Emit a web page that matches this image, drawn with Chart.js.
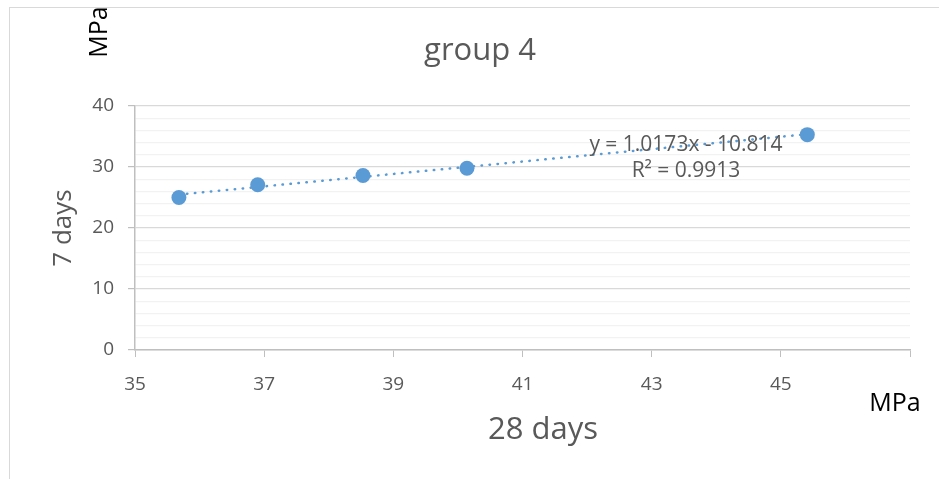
<!DOCTYPE html>
<html>
<head>
<meta charset="utf-8">
<script src="https://cdn.jsdelivr.net/npm/chart.js@4.4.1/dist/chart.umd.min.js"></script>
<style>
    html, body { margin: 0; padding: 0; background: #fff; }
    #wrap { width: 939px; height: 479px; }
</style>
</head>
<body>
<div id="wrap"><canvas id="chart" width="939" height="479"></canvas></div>
<script>
// 28 days strength (x) vs 7 days strength (y), MPa
const days28 = [35.68, 36.90, 38.53, 40.14, 45.41];
const days7 = [25.0, 27.1, 28.6, 29.8, 35.3];
const trendSlope = 1.0173;
const trendIntercept = -10.814;
const xTicks = [35, 37, 39, 41, 43, 45, 47];
const yTicks = [0, 10, 20, 30, 40];

const blue = '#5B9BD5';
const grey = '#595959';
const font = '"Open Sans", "Liberation Sans", sans-serif';

let points = days28.map((x, i) => ({ x: x, y: days7[i] }));
let xFirst = days28[0];
let xLast = days28[days28.length - 1];
let trend = [
    { x: xFirst, y: trendSlope * xFirst + trendIntercept },
    { x: xLast, y: trendSlope * xLast + trendIntercept }
];

// titles and equation are drawn by hand so they don't move the plot area
const textPlugin = {
    id: 'texts',
    beforeDraw(chart) {
        let c = chart.ctx;
        c.save();
        c.fillStyle = '#fff';
        c.fillRect(0, 0, chart.width, chart.height);
        c.strokeStyle = '#D9D9D9';
        c.lineWidth = 1;
        c.strokeRect(9.5, 7.5, 1000, 1000);
        c.restore();
    },
    afterDraw(chart) {
        let c = chart.ctx;
        c.save();
        c.textAlign = 'center';
        c.textBaseline = 'middle';

        c.fillStyle = grey;
        c.font = '31px ' + font;
        c.fillText('group 4', 480, 51);
        c.fillText('28 days', 543, 430);

        c.save();
        c.translate(64, 228);
        c.rotate(-Math.PI / 2);
        c.font = '26px ' + font;
        c.fillText('7 days', 0, 0);
        c.restore();

        // equation label
        c.font = '21px ' + font;
        c.fillText('y = ' + trendSlope + 'x - ' + Math.abs(trendIntercept), 686, 145);
        c.fillText('R\u00B2 = 0.9913', 686, 171);

        // unit labels
        c.fillStyle = '#000';
        c.font = '25px ' + font;
        c.fillText('MPa', 895, 404);
        c.save();
        c.translate(100, 32);
        c.rotate(-Math.PI / 2);
        c.fillText('MPa', 0, 0);
        c.restore();
        c.restore();
    }
};

const ctx = document.getElementById('chart').getContext('2d');
const myChart = new Chart(ctx, {
    type: 'scatter',
    data: {
        datasets: [
            {
                label: 'trend',
                data: trend,
                showLine: true,
                borderColor: blue,
                borderWidth: 2.5,
                borderDash: [0.5, 7.5],
                borderCapStyle: 'round',
                pointRadius: 0,
                order: 2
            },
            {
                label: 'group 4',
                data: points,
                backgroundColor: blue,
                borderColor: blue,
                pointRadius: 7.5,
                pointBorderWidth: 0,
                order: 1
            }
        ]
    },
    options: {
        responsive: false,
        animation: false,
        layout: { padding: { top: 106, right: 29, left: 0, bottom: 0 } },
        plugins: {
            legend: { display: false },
            tooltip: { enabled: false },
            title: { display: false }
        },
        scales: {
            x: {
                type: 'linear',
                min: xTicks[0],
                max: xTicks[xTicks.length - 1],
                afterBuildTicks: (s) => { s.ticks = xTicks.map(v => ({ value: v })); },
                afterFit: (s) => { s.height = 129; },
                border: { color: '#BFBFBF', width: 1.5 },
                grid: {
                    drawOnChartArea: false,
                    drawTicks: true,
                    tickLength: 7,
                    tickColor: '#BFBFBF'
                },
                ticks: {
                    color: grey,
                    font: { family: font, size: 19 },
                    padding: 16,
                    maxRotation: 0,
                    autoSkip: false,
                    callback: (v) => v === 47 ? '' : v
                }
            },
            y: {
                min: yTicks[0],
                max: yTicks[yTicks.length - 1],
                afterFit: (s) => { s.width = 135; },
                border: { color: '#BFBFBF', width: 1.5 },
                grid: {
                    color: (c) => c.tick && c.tick.value % 10 === 0 ? '#D9D9D9' : '#F2F2F2',
                    tickColor: (c) => c.tick && c.tick.value % 10 === 0 ? '#BFBFBF' : 'rgba(0,0,0,0)',
                    tickLength: 7,
                    lineWidth: 1.2
                },
                ticks: {
                    stepSize: 2,
                    color: grey,
                    font: { family: font, size: 19 },
                    padding: 14,
                    autoSkip: false,
                    callback: (v) => v % 10 === 0 ? v : ''
                }
            }
        }
    },
    plugins: [textPlugin]
});
</script>
</body>
</html>
